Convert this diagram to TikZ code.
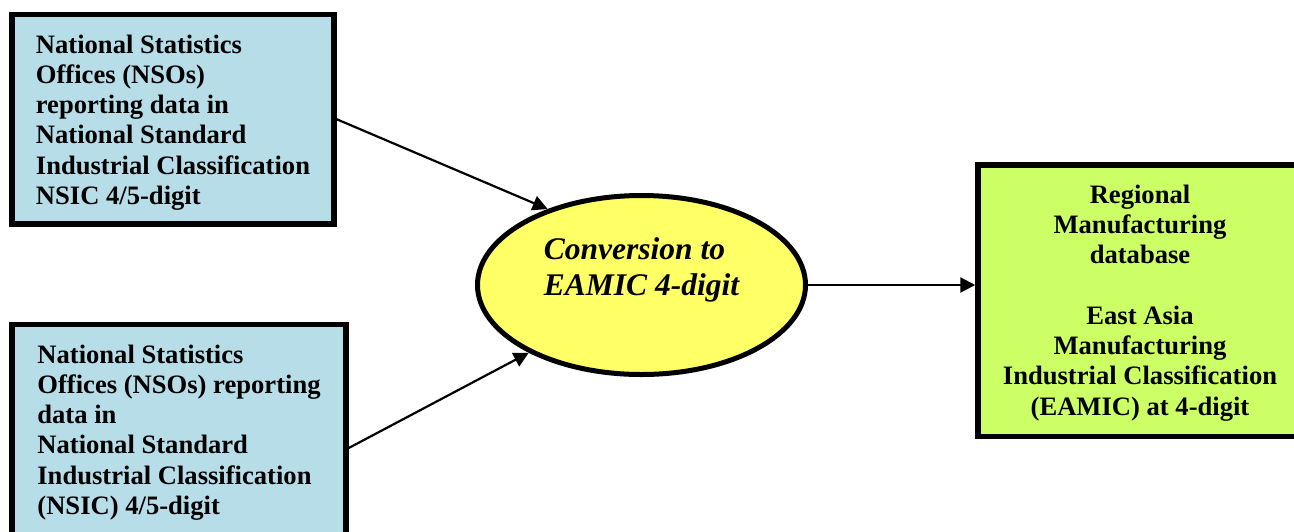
\documentclass[tikz,border=0pt]{standalone}
\usepackage{fontspec}
\setmainfont{Liberation Serif}
\usetikzlibrary{arrows.meta,shapes.geometric}
\definecolor{boxblue}{HTML}{B7DDE8}
\definecolor{ellyellow}{HTML}{FFFF66}
\definecolor{boxgreen}{HTML}{CCFF66}
\tikzset{
  srcbox/.style={draw=black, line width=5.5pt, fill=boxblue, rectangle, align=left,
    inner ysep=0pt, inner xsep=4pt,
    font=\fontsize{26.6}{30.3}\selectfont\bfseries},
  dstbox/.style={draw=black, line width=5.5pt, fill=boxgreen, rectangle, align=center,
    inner ysep=0pt, inner xsep=4pt,
    font=\fontsize{26.6}{30.3}\selectfont\bfseries},
  convell/.style={draw=black, line width=5pt, fill=ellyellow, ellipse, align=left,
    inner sep=2pt,
    font=\fontsize{31.5}{36}\selectfont\bfseries\itshape},
  flow/.style={draw=black, line width=2.2pt, -{Triangle[length=15pt,width=15pt]}}
}
\begin{document}
\begin{tikzpicture}[x=1pt,y=-1pt]
\useasboundingbox (0,0) rectangle (1294,531);
\node[srcbox, minimum width=322pt, minimum height=209.5pt,
      text height=190pt, text depth=19.5pt] (nso1) at (173,119.25)
  {National Statistics\\Offices (NSOs)\\reporting data in\\National Standard\\Industrial Classification\\NSIC 4/5-digit};
\node[srcbox, minimum width=334pt, minimum height=247pt,
      text height=190pt, text depth=57pt] (nso2) at (179,448)
  {National Statistics\\Offices (NSOs) reporting\\data in\\National Standard\\Industrial Classification\\(NSIC) 4/5-digit};
\node[convell, minimum width=328pt, minimum height=179pt,
      text height=58pt, text depth=38pt] (conv) at (641.5,285)
  {Conversion to\\EAMIC 4-digit};
\node[dstbox, minimum width=324pt, minimum height=271.5pt,
      text height=250.1pt, text depth=21.4pt] (db) at (1140,300.75)
  {Regional\\Manufacturing\\database\\[30.3pt]East Asia\\Manufacturing\\Industrial Classification\\(EAMIC) at 4-digit};
\draw[flow] (nso1.east) -- (conv.141);
\draw[flow] (nso2.east) -- (conv.211.75);
\draw[flow] (conv.east) -- (conv.east -| db.west);
\end{tikzpicture}
\end{document}
